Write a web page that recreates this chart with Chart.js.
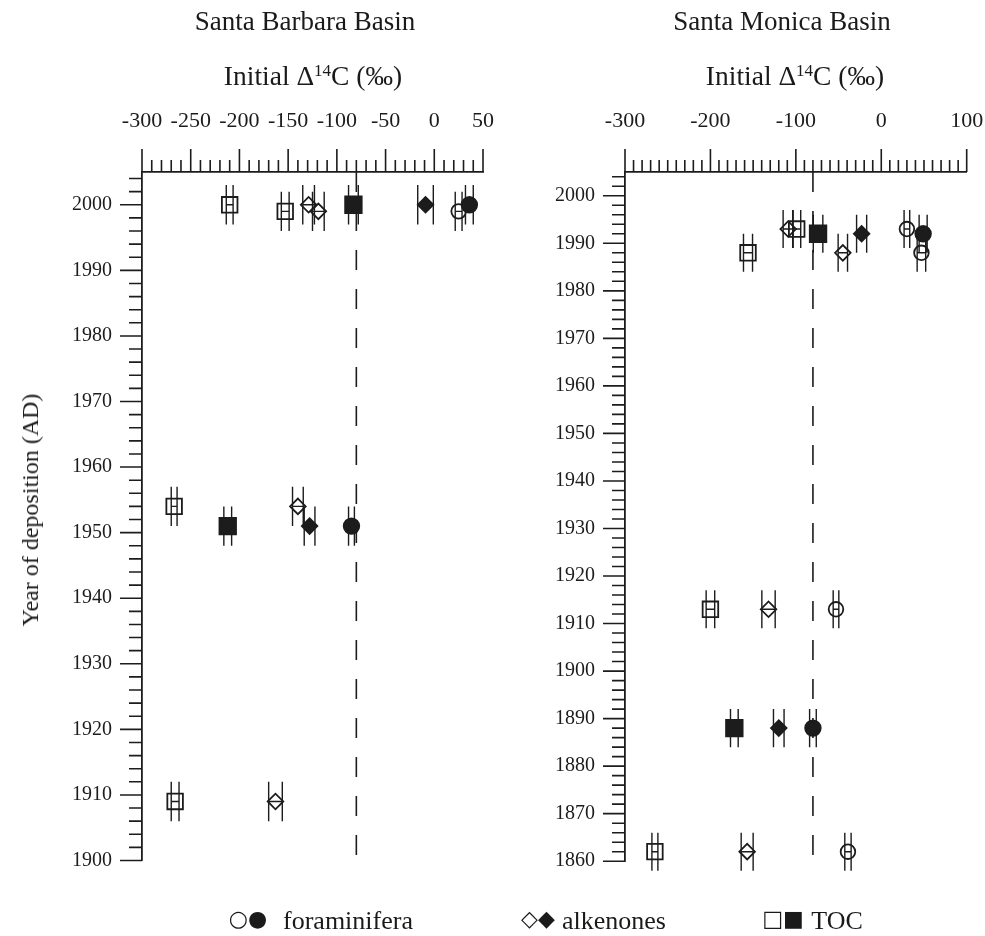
<!DOCTYPE html>
<html><head><meta charset="utf-8">
<script src="https://cdn.jsdelivr.net/npm/chart.js@4.4.1/dist/chart.umd.min.js"></script>
<style>
html,body{margin:0;padding:0;background:#fff;}
body{width:985px;height:936px;position:relative;overflow:hidden;font-family:"Liberation Serif","Times New Roman",serif;color:#1a1a1a;}
canvas{position:absolute;top:0;}
#c1{left:0;}
#c2{left:500px;}
.t{position:absolute;white-space:nowrap;transform:translate(-50%,-50%);line-height:1;}
.sup{font-size:0.62em;position:relative;top:-0.5em;}
.sym{font-family:"DejaVu Sans",sans-serif;font-size:22px;}
</style></head><body>
<canvas id="c1" width="520" height="936"></canvas>
<canvas id="c2" width="485" height="936"></canvas>

<div class="t" style="left:305px;top:21px;font-size:27px">Santa Barbara Basin</div>
<div class="t" style="left:782px;top:21px;font-size:27px">Santa Monica Basin</div>
<div class="t" style="left:313px;top:76px;font-size:27.5px">Initial Δ<span class="sup">14</span>C (‰)</div>
<div class="t" style="left:795px;top:76px;font-size:27.5px">Initial Δ<span class="sup">14</span>C (‰)</div>
<div class="t" style="left:30px;top:510px;font-size:24px;transform:translate(-50%,-50%) rotate(-90deg)">Year of deposition (AD)</div>

<div class="t" style="left:248px;top:919px"><span class="sym">○●</span></div>
<div class="t" style="left:348px;top:921px;font-size:26px">foraminifera</div>
<div class="t" style="left:538px;top:919px"><span class="sym">◇◆</span></div>
<div class="t" style="left:614px;top:921px;font-size:26px">alkenones</div>
<div class="t" style="left:783px;top:919px"><span class="sym">□■</span></div>
<div class="t" style="left:837px;top:921px;font-size:26px">TOC</div>

<script>
// ---------------- DATA ----------------
// each point: [initial Δ14C (‰), year of deposition (AD), Δ14C error (‰)]
const sbForamOpen    = [[25, 1999, 3.5]];
const sbForamFilled  = [[36, 2000, 4], [-85, 1951, 3]];
const sbAlkOpen      = [[-129, 2000, 6], [-119, 1999, 6], [-140, 1954, 5.5], [-163, 1909, 7]];
const sbAlkFilled    = [[-9, 2000, 8], [-128, 1951, 5.5]];
const sbTocOpen      = [[-210, 2000, 3.5], [-153, 1999, 4], [-267, 1954, 3], [-266, 1909, 4]];
const sbTocFilled    = [[-83, 2000, 5], [-212, 1951, 4]];
const sbYearErr = 3;

const smForamOpen    = [[30, 1993, 3.3], [47, 1988, 5], [-53, 1913, 3.3], [-39, 1862, 3.7]];
const smForamFilled  = [[49, 1992, 4.7], [-80, 1888, 3.9]];
const smAlkOpen      = [[-109, 1993, 5.9], [-45, 1988, 5.5], [-132, 1913, 7.8], [-157, 1862, 7]];
const smAlkFilled    = [[-23, 1992, 5.9], [-120, 1888, 6.2]];
const smTocOpen      = [[-99, 1993, 4.7], [-156, 1988, 5.3], [-200, 1913, 5], [-265, 1862, 3.5]];
const smTocFilled    = [[-74, 1992, 5.6], [-172, 1888, 4.5]];
const smYearErr = 4;

const referenceDelta = -80;   // dashed vertical line

const sbXRange = [-300, 50];  const sbXLabelStep = 50;
const smXRange = [-300, 100]; const smXLabelStep = 100;
const sbYRange = [1900, 2005];
const smYRange = [1860, 2005];
const yLabelStep = 10;

// ---------------- STYLE ----------------
const INK = '#1c1c1c';
const FONT = '"Liberation Serif","Times New Roman",serif';

function pts(arr, yErr) { return arr.map(p => ({x: p[0], y: p[1], xErr: p[2], yErr: yErr})); }

function makeDatasets(fo, ff, ao, af, to, tf, yErr) {
  const base = {showLine: false, borderColor: INK, borderWidth: 1.8, pointBorderColor: INK, pointBorderWidth: 1.8};
  return [
    Object.assign({label: 'foraminifera (open)', data: pts(fo, yErr), pointStyle: 'circle', pointRadius: 7.3, pointBackgroundColor: 'rgba(0,0,0,0)'}, base),
    Object.assign({label: 'foraminifera (filled)', data: pts(ff, yErr), pointStyle: 'circle', pointRadius: 7.8, pointBackgroundColor: INK}, base),
    Object.assign({label: 'alkenones (open)', data: pts(ao, yErr), pointStyle: 'rectRot', pointRadius: 7.8, pointBackgroundColor: 'rgba(0,0,0,0)'}, base),
    Object.assign({label: 'alkenones (filled)', data: pts(af, yErr), pointStyle: 'rectRot', pointRadius: 7.8, pointBackgroundColor: INK}, base),
    Object.assign({label: 'TOC (open)', data: pts(to, yErr), pointStyle: 'rect', pointRadius: 11, pointBackgroundColor: 'rgba(0,0,0,0)'}, base),
    Object.assign({label: 'TOC (filled)', data: pts(tf, yErr), pointStyle: 'rect', pointRadius: 11.7, pointBackgroundColor: INK}, base),
  ];
}

const decor = {
  id: 'decor',
  beforeDatasetsDraw(chart, args, o) {
    const ctx = chart.ctx, xs = chart.scales.x, ys = chart.scales.y, a = chart.chartArea;
    ctx.save();
    ctx.strokeStyle = INK; ctx.lineWidth = 1.6; ctx.setLineDash([20, 19]);
    const rx = xs.getPixelForValue(o.ref);
    ctx.beginPath(); ctx.moveTo(rx, a.top); ctx.lineTo(rx, a.bottom); ctx.stroke();
    ctx.setLineDash([]);
    ctx.lineWidth = 1.4;
    ctx.beginPath();
    chart.data.datasets.forEach(ds => ds.data.forEach(p => {
      const x0 = xs.getPixelForValue(p.x - p.xErr), x1 = xs.getPixelForValue(p.x + p.xErr);
      const y = ys.getPixelForValue(p.y);
      const yt = ys.getPixelForValue(p.y + p.yErr), yb = ys.getPixelForValue(p.y - p.yErr);
      ctx.moveTo(x0, y); ctx.lineTo(x1, y);
      ctx.moveTo(x0, yt); ctx.lineTo(x0, yb);
      ctx.moveTo(x1, yt); ctx.lineTo(x1, yb);
    }));
    ctx.stroke();
    ctx.restore();
  },
  afterDraw(chart, args, o) {
    const ctx = chart.ctx, xs = chart.scales.x, ys = chart.scales.y, a = chart.chartArea;
    ctx.save(); ctx.strokeStyle = INK; ctx.lineWidth = 1.6; ctx.beginPath();
    for (let v = xs.min; v <= xs.max + 1e-6; v += o.xMinor) {
      const px = xs.getPixelForValue(v);
      const major = Math.abs(Math.round(v) % o.xMajor) === 0;
      ctx.moveTo(px, a.top); ctx.lineTo(px, a.top - (major ? 23 : 12));
    }
    for (let v = ys.min; v <= ys.max + 1e-6; v += o.yMinor) {
      const py = ys.getPixelForValue(v);
      const major = Math.round(v) % o.yMajor === 0;
      ctx.moveTo(a.left, py); ctx.lineTo(a.left - (major ? 22 : 13), py);
    }
    ctx.stroke(); ctx.restore();
  }
};

function makeChart(id, datasets, xr, xstep, yr, areaLeft, areaTop, pad) {
  return new Chart(document.getElementById(id), {
    type: 'scatter',
    data: {datasets},
    plugins: [decor],
    options: {
      responsive: false, animation: false,
      layout: {padding: pad},
      plugins: {legend: {display: false}, tooltip: {enabled: false},
        decor: {ref: referenceDelta, xMinor: 10, xMajor: xstep, yMinor: 2, yMajor: yLabelStep}},
      scales: {
        x: {type: 'linear', position: 'top', min: xr[0], max: xr[1],
          grid: {display: false, drawTicks: false},
          border: {display: true, color: INK, width: 1.8},
          ticks: {stepSize: xstep, padding: 38, color: INK, font: {family: FONT, size: 22}, maxRotation: 0, autoSkip: false,
                  callback: v => String(v)},
          afterFit: s => { s.height = areaTop; s.paddingLeft = 0; s.paddingRight = 0; }},
        y: {type: 'linear', position: 'left', min: yr[0], max: yr[1],
          grid: {display: false, drawTicks: false},
          border: {display: true, color: INK, width: 1.8},
          ticks: {stepSize: yLabelStep, includeBounds: false, padding: 30, color: INK, font: {family: FONT, size: 20}, autoSkip: false,
                  callback: v => String(v)},
          afterFit: s => { s.width = areaLeft; s.paddingTop = 0; s.paddingBottom = 0; }}
      }
    }
  });
}

makeChart('c1', makeDatasets(sbForamOpen, sbForamFilled, sbAlkOpen, sbAlkFilled, sbTocOpen, sbTocFilled, sbYearErr),
  sbXRange, sbXLabelStep, sbYRange, 142, 172, {left: 0, top: 0, right: 37, bottom: 75.5});
makeChart('c2', makeDatasets(smForamOpen, smForamFilled, smAlkOpen, smAlkFilled, smTocOpen, smTocFilled, smYearErr),
  smXRange, smXLabelStep, smYRange, 125, 172, {left: 0, top: 0, right: 18.3, bottom: 74.8});
</script>
</body></html>
